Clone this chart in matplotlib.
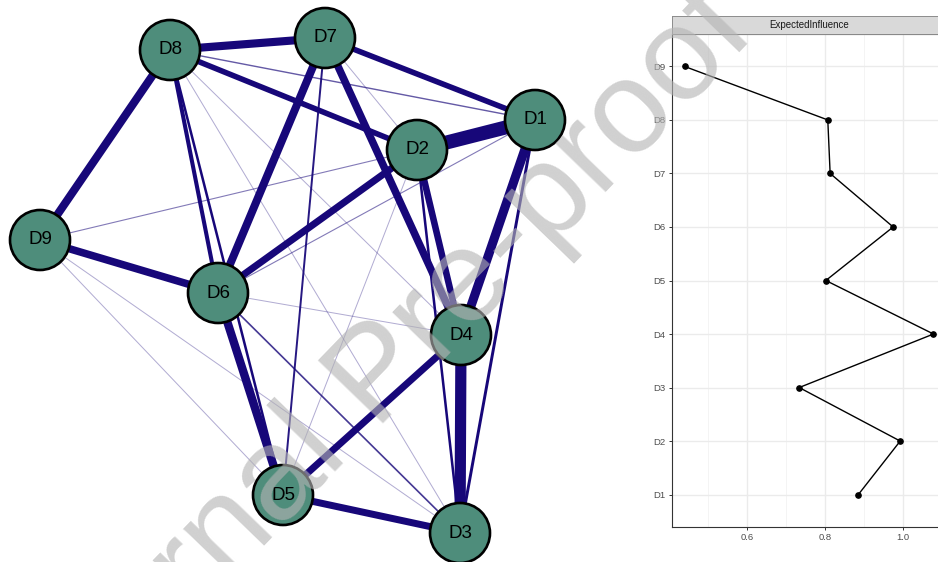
import numpy as np
import matplotlib.pyplot as plt
from matplotlib.patches import Circle

plt.rcParams['font.family'] = ['Liberation Sans', 'DejaVu Sans']

# Network nodes and their layout coordinates
nodes = ["D1", "D2", "D3", "D4", "D5", "D6", "D7", "D8", "D9"]
layout_x = [535, 417, 460, 461, 283, 218, 325, 170, 40]
layout_y = [120, 150, 533, 335, 495, 293, 38, 50, 240]

# Edges as (from, to, relative weight)
edges = [
    ("D1", "D2", 1.00), ("D3", "D4", 0.80), ("D1", "D4", 0.65),
    ("D7", "D8", 0.58), ("D8", "D9", 0.58), ("D6", "D9", 0.54),
    ("D6", "D7", 0.57), ("D4", "D7", 0.54), ("D5", "D6", 0.60),
    ("D2", "D6", 0.50), ("D2", "D4", 0.47), ("D4", "D5", 0.50),
    ("D3", "D5", 0.50), ("D1", "D7", 0.40), ("D2", "D8", 0.40),
    ("D6", "D8", 0.29), ("D5", "D8", 0.18), ("D1", "D3", 0.21),
    ("D2", "D3", 0.18), ("D5", "D7", 0.14), ("D3", "D6", 0.12),
    ("D1", "D8", 0.10), ("D2", "D9", 0.08), ("D1", "D6", 0.08),
    ("D4", "D8", 0.05), ("D3", "D8", 0.05), ("D2", "D7", 0.05),
    ("D5", "D9", 0.05), ("D3", "D9", 0.05), ("D4", "D6", 0.05),
    ("D2", "D5", 0.05),
]

# Expected influence per node
ei_labels = ["D1", "D2", "D3", "D4", "D5", "D6", "D7", "D8", "D9"]
ei_values = [0.885, 0.992, 0.734, 1.077, 0.802, 0.974, 0.813, 0.807, 0.441]

edge_color = "#170779"
node_color = "#4e8d7b"

fig = plt.figure(figsize=(9.38, 5.62), dpi=100)

# ---- network ----
ax = fig.add_axes([0, 0, 640 / 938, 1])
ax.set_xlim(0, 640)
ax.set_ylim(562, 0)
ax.axis("off")

pos = {n: (x, y) for n, x, y in zip(nodes, layout_x, layout_y)}
for a, b, w in sorted(edges, key=lambda e: e[2]):
    (x1, y1), (x2, y2) = pos[a], pos[b]
    alpha = float(np.clip(w / 0.15, 0.32, 1.0))
    ax.plot([x1, x2], [y1, y2], color=edge_color, lw=max(w * 14, 1.0) * 0.72,
            alpha=alpha, solid_capstyle="butt", zorder=1 + w)

for n, x, y in zip(nodes, layout_x, layout_y):
    ax.add_patch(Circle((x, y), 30, facecolor=node_color, edgecolor="black",
                        lw=1.9, zorder=10))
    ax.text(x, y, n, ha="center", va="center", fontsize=13.5, color="black",
            zorder=11)

# ---- centrality plot ----
left = 672 / 938
bottom = (562 - 526.7) / 562
top = (562 - 34.3) / 562
width = (946 - 672) / 938
ax2 = fig.add_axes([left, bottom, width, top - bottom])
ypos = np.arange(1, len(ei_labels) + 1)
ax2.plot(ei_values, ypos, color="black", lw=1.0, marker="o", ms=3.8, zorder=3)
ax2.set_xlim(0.409, 1.109)
ax2.set_ylim(0.4, 9.6)
ax2.set_yticks(ypos)
ax2.set_yticklabels(ei_labels)
ax2.set_xticks([0.6, 0.8, 1.0])
ax2.set_xticklabels(["0.6", "0.8", "1.0"])
ax2.set_xticks([0.5, 0.7, 0.9], minor=True)
ax2.grid(True, which="major", color="#ebebeb", lw=1.0, zorder=0)
ax2.grid(True, which="minor", axis="x", color="#f2f2f2", lw=0.6, zorder=0)
ax2.set_axisbelow(True)
ax2.tick_params(which="major", length=2.5, width=0.7, color="#333333",
                labelsize=6.8, labelcolor="#4d4d4d", pad=2)
ax2.tick_params(which="minor", length=0)
for side in ["left", "bottom", "top"]:
    ax2.spines[side].set_color("#333333")
    ax2.spines[side].set_linewidth(0.8)
ax2.spines["right"].set_visible(False)

strip = fig.add_axes([left, top, width, (562 - 15.7) / 562 - top])
strip.set_facecolor("#d9d9d9")
strip.set_xticks([])
strip.set_yticks([])
for side in strip.spines:
    strip.spines[side].set_color("#8c8c8c")
    strip.spines[side].set_linewidth(0.7)
strip.text(0.5, 0.5, "ExpectedInfluence", ha="center", va="center",
           fontsize=7, color="#1a1a1a", transform=strip.transAxes)

# watermark
fig.text(379 / 938, 1 - 377 / 562, "Journal Pre-proof", rotation=46,
         rotation_mode="anchor", ha="center", va="center", fontsize=95,
         color="#b4b4b4", alpha=0.62, zorder=100)

fig.savefig("out.png", dpi=100)
